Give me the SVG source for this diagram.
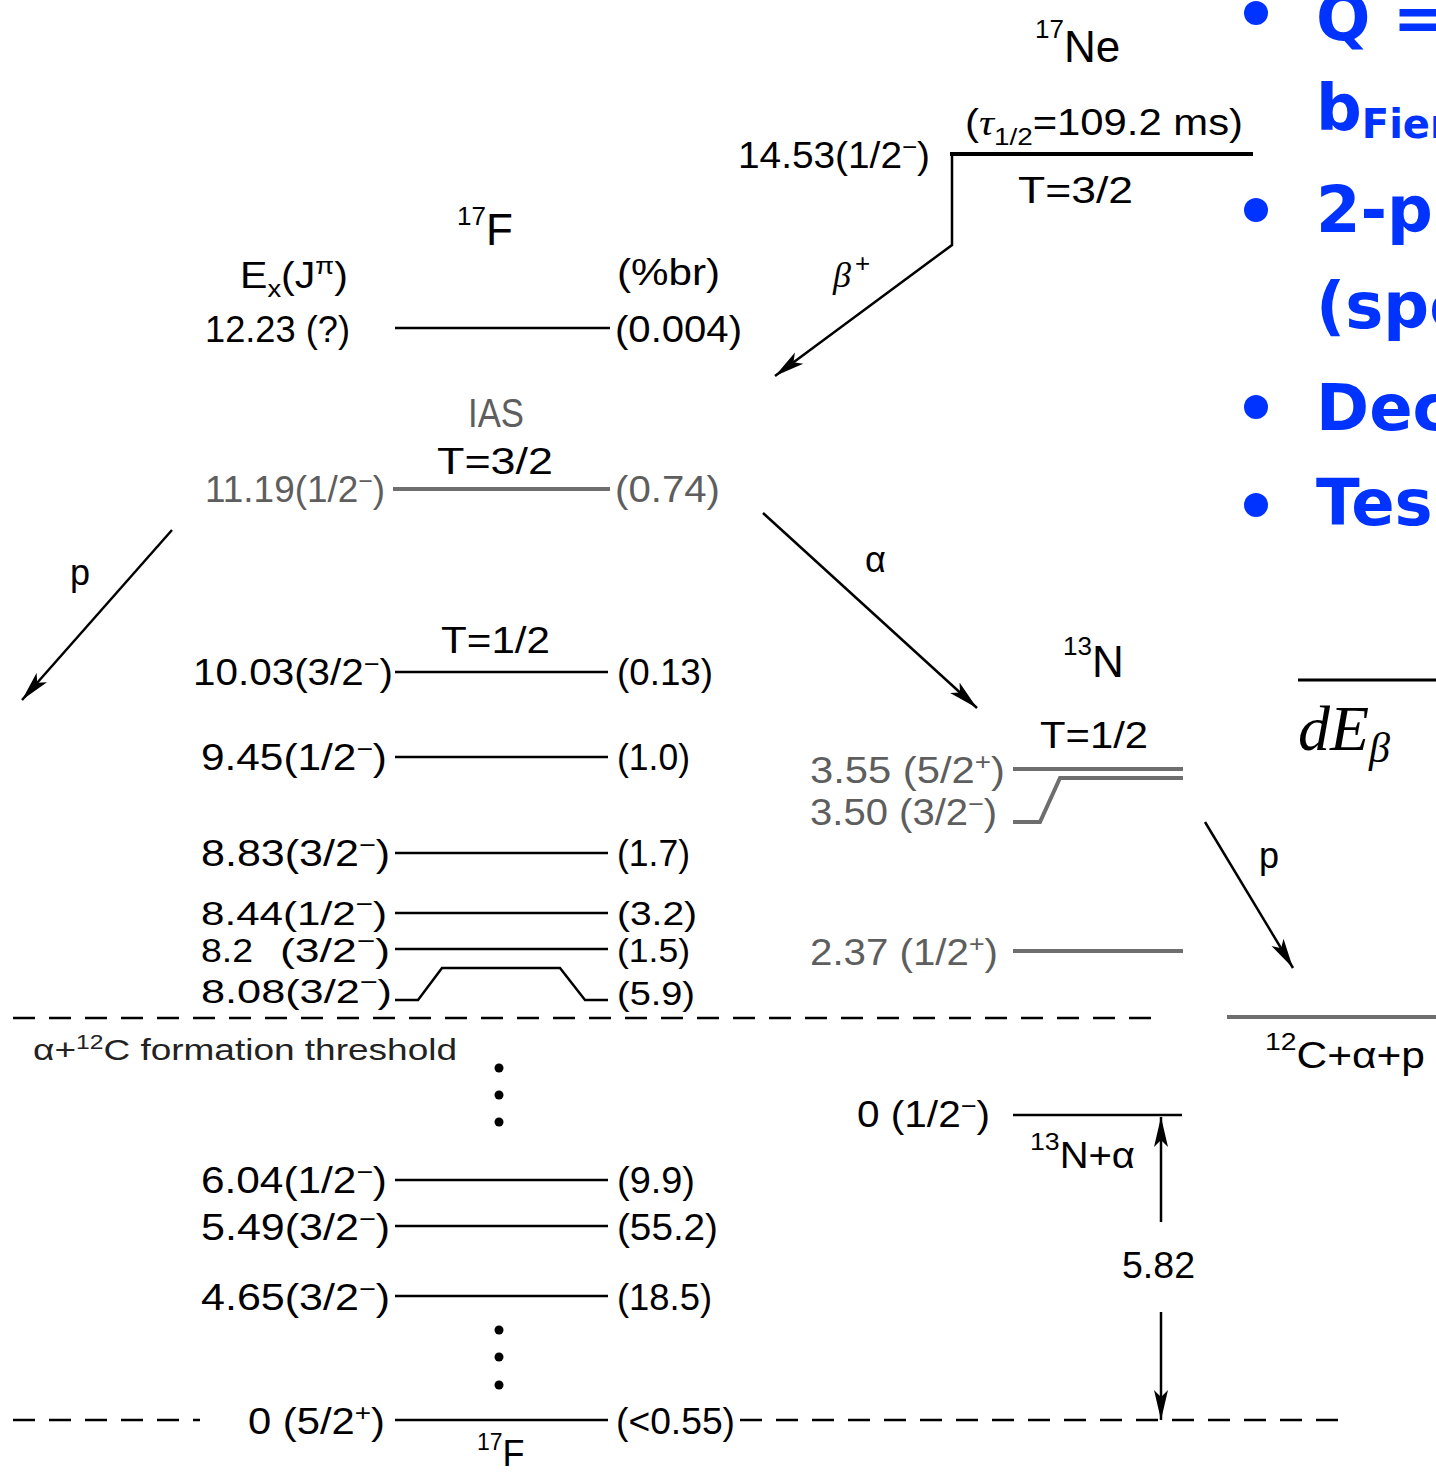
<svg xmlns="http://www.w3.org/2000/svg" width="1436" height="1475" viewBox="0 0 1436 1475">
<style>
.t{font-family:"Liberation Sans",Arial,sans-serif;font-size:36px;fill:#000}
.g{fill:#5e5e5e}
.s{font-size:24px}
.sm{font-size:30px}
.r3{font-size:34px}
.lv{stroke:#000;stroke-width:2.5;fill:none}
.lg{stroke:#6e6e6e;stroke-width:4;fill:none}
.dash{stroke:#000;stroke-width:2.5;stroke-dasharray:22 14;fill:none}
.ar{stroke:#000;stroke-width:2.5;fill:none;marker-end:url(#ah)}
.bl{font-family:"DejaVu Sans",sans-serif;font-weight:bold;font-size:64px;fill:#0033ff}
.dot{fill:#000}
</style>
<defs>
<marker id="ah" markerUnits="userSpaceOnUse" markerWidth="34" markerHeight="16" refX="30" refY="8" orient="auto">
<path d="M0,1 L30,8 L0,15 L7,8 Z" fill="#000"/>
</marker>
</defs>
<rect width="1436" height="1475" fill="#fff"/>

<!-- 17Ne parent -->
<g id="ne17">
<text class="t" x="1035" y="62" style="font-size:44px"><tspan style="font-size:26px" dy="-24">17</tspan><tspan dy="24">Ne</tspan></text>
<text class="t" x="965" y="135" textLength="278" lengthAdjust="spacingAndGlyphs">(<tspan style="font-style:italic;font-family:'Liberation Serif',serif">τ</tspan><tspan class="s" dy="10">1/2</tspan><tspan dy="-10">=109.2  ms)</tspan></text>
<line class="lv" x1="950" y1="154" x2="1253" y2="154" style="stroke-width:4"/>
<text class="t" x="738" y="168" textLength="192" lengthAdjust="spacingAndGlyphs">14.53(1/2<tspan class="s" dy="-13">−</tspan><tspan dy="13">)</tspan></text>
<text class="t" x="1018" y="203" textLength="115" lengthAdjust="spacingAndGlyphs">T=3/2</text>
</g>

<!-- 17F headers -->
<g id="f17-header">
<text class="t" x="457" y="245" style="font-size:44px"><tspan style="font-size:26px" dy="-20">17</tspan><tspan dy="20">F</tspan></text>
<text class="t" x="240" y="288" textLength="108" lengthAdjust="spacingAndGlyphs">E<tspan class="s" dy="9">x</tspan><tspan dy="-9">(J</tspan><tspan class="s" dy="-14">π</tspan><tspan dy="14">)</tspan></text>
<text class="t" x="617" y="285" textLength="103" lengthAdjust="spacingAndGlyphs">(%br)</text>
</g>

<g id="f17-1223">
<text class="t" x="205" y="342" textLength="145" lengthAdjust="spacingAndGlyphs">12.23 (?)</text>
<line class="lv" x1="395" y1="328" x2="610" y2="328"/>
<text class="t" x="615" y="342" textLength="127" lengthAdjust="spacingAndGlyphs">(0.004)</text>
</g>

<g id="f17-1119">
<text class="t g" x="468" y="427" style="font-size:40px" textLength="56" lengthAdjust="spacingAndGlyphs">IAS</text>
<text class="t" x="437" y="474" textLength="116" lengthAdjust="spacingAndGlyphs">T=3/2</text>
<text class="t g" x="205" y="502" textLength="180" lengthAdjust="spacingAndGlyphs">11.19(1/2<tspan class="s" dy="-13">−</tspan><tspan dy="13">)</tspan></text>
<line class="lg" x1="393" y1="489" x2="610" y2="489"/>
<text class="t g" x="615" y="502" textLength="105" lengthAdjust="spacingAndGlyphs">(0.74)</text>
</g>

<g id="f17-1003">
<text class="t" x="441" y="653" textLength="109" lengthAdjust="spacingAndGlyphs">T=1/2</text>
<text class="t" x="193" y="685" textLength="200" lengthAdjust="spacingAndGlyphs">10.03(3/2<tspan class="s" dy="-13">−</tspan><tspan dy="13">)</tspan></text>
<line class="lv" x1="395" y1="672" x2="608" y2="672"/>
<text class="t" x="617" y="685" textLength="96" lengthAdjust="spacingAndGlyphs">(0.13)</text>
</g>

<g id="f17-945">
<text class="t" x="201" y="770" textLength="186" lengthAdjust="spacingAndGlyphs">9.45(1/2<tspan class="s" dy="-13">−</tspan><tspan dy="13">)</tspan></text>
<line class="lv" x1="395" y1="757" x2="608" y2="757"/>
<text class="t" x="617" y="770" textLength="73" lengthAdjust="spacingAndGlyphs">(1.0)</text>
</g>

<g id="f17-883">
<text class="t" x="201" y="866" textLength="189" lengthAdjust="spacingAndGlyphs">8.83(3/2<tspan class="s" dy="-13">−</tspan><tspan dy="13">)</tspan></text>
<line class="lv" x1="395" y1="853" x2="608" y2="853"/>
<text class="t" x="617" y="866" textLength="73" lengthAdjust="spacingAndGlyphs">(1.7)</text>
</g>

<g id="f17-844">
<text class="t r3" x="201" y="925" textLength="186" lengthAdjust="spacingAndGlyphs">8.44(1/2<tspan class="s" dy="-13">−</tspan><tspan dy="13">)</tspan></text>
<line class="lv" x1="395" y1="913" x2="608" y2="913"/>
<text class="t r3" x="617" y="925" textLength="80" lengthAdjust="spacingAndGlyphs">(3.2)</text>
</g>

<g id="f17-82">
<text class="t r3" x="201" y="962" textLength="52" lengthAdjust="spacingAndGlyphs">8.2</text>
<text class="t r3" x="280" y="962" textLength="110" lengthAdjust="spacingAndGlyphs">(3/2<tspan class="s" dy="-13">−</tspan><tspan dy="13">)</tspan></text>
<line class="lv" x1="395" y1="949" x2="608" y2="949"/>
<text class="t r3" x="617" y="962" textLength="73" lengthAdjust="spacingAndGlyphs">(1.5)</text>
</g>

<g id="f17-808">
<text class="t r3" x="201" y="1003" textLength="191" lengthAdjust="spacingAndGlyphs">8.08(3/2<tspan class="s" dy="-13">−</tspan><tspan dy="13">)</tspan></text>
<polyline class="lv" points="395,1000 418,1000 442,968 560,968 585,1000 608,1000"/>
<text class="t r3" x="617" y="1005" textLength="78" lengthAdjust="spacingAndGlyphs">(5.9)</text>
</g>

<g id="threshold">
<line class="dash" x1="13" y1="1018" x2="1160" y2="1018"/>
<text class="t sm" x="33" y="1060" textLength="424" lengthAdjust="spacingAndGlyphs" style="fill:#222">α+<tspan style="font-size:20px" dy="-11">12</tspan><tspan dy="11">C formation threshold</tspan></text>
<circle class="dot" cx="499" cy="1068" r="4.5"/>
<circle class="dot" cx="499" cy="1095" r="4.5"/>
<circle class="dot" cx="499" cy="1122" r="4.5"/>
</g>

<g id="f17-604">
<text class="t" x="201" y="1193" textLength="186" lengthAdjust="spacingAndGlyphs">6.04(1/2<tspan class="s" dy="-13">−</tspan><tspan dy="13">)</tspan></text>
<line class="lv" x1="395" y1="1180" x2="608" y2="1180"/>
<text class="t" x="617" y="1193" textLength="78" lengthAdjust="spacingAndGlyphs">(9.9)</text>
</g>

<g id="f17-549">
<text class="t" x="201" y="1240" textLength="189" lengthAdjust="spacingAndGlyphs">5.49(3/2<tspan class="s" dy="-13">−</tspan><tspan dy="13">)</tspan></text>
<line class="lv" x1="395" y1="1226" x2="608" y2="1226"/>
<text class="t" x="617" y="1240" textLength="101" lengthAdjust="spacingAndGlyphs">(55.2)</text>
</g>

<g id="f17-465">
<text class="t" x="201" y="1310" textLength="189" lengthAdjust="spacingAndGlyphs">4.65(3/2<tspan class="s" dy="-13">−</tspan><tspan dy="13">)</tspan></text>
<line class="lv" x1="395" y1="1296" x2="608" y2="1296"/>
<text class="t" x="617" y="1310" textLength="95" lengthAdjust="spacingAndGlyphs">(18.5)</text>
<circle class="dot" cx="499" cy="1330" r="4.5"/>
<circle class="dot" cx="499" cy="1357" r="4.5"/>
<circle class="dot" cx="499" cy="1385" r="4.5"/>
</g>

<g id="f17-gs">
<line class="dash" x1="13" y1="1420" x2="200" y2="1420"/>
<text class="t" x="248" y="1434" textLength="137" lengthAdjust="spacingAndGlyphs">0 (5/2<tspan class="s" dy="-13">+</tspan><tspan dy="13">)</tspan></text>
<line class="lv" x1="395" y1="1420" x2="608" y2="1420"/>
<text class="t" x="616" y="1434" textLength="119" lengthAdjust="spacingAndGlyphs">(&lt;0.55)</text>
<line class="dash" x1="740" y1="1420" x2="1350" y2="1420"/>
<text class="t" x="477" y="1466" style="font-size:36px"><tspan style="font-size:23px" dy="-16">17</tspan><tspan dy="16">F</tspan></text>
</g>

<!-- 13N -->
<g id="n13-header">
<text class="t" x="1063" y="677" style="font-size:44px"><tspan style="font-size:26px" dy="-22">13</tspan><tspan dy="22">N</tspan></text>
<text class="t" x="1040" y="748" textLength="108" lengthAdjust="spacingAndGlyphs">T=1/2</text>
</g>

<g id="n13-355">
<text class="t g" x="810" y="783" textLength="195" lengthAdjust="spacingAndGlyphs">3.55 (5/2<tspan class="s" dy="-13">+</tspan><tspan dy="13">)</tspan></text>
<line class="lg" x1="1013" y1="769" x2="1183" y2="769"/>
</g>

<g id="n13-350">
<text class="t g" x="810" y="825" textLength="187" lengthAdjust="spacingAndGlyphs">3.50 (3/2<tspan class="s" dy="-13">−</tspan><tspan dy="13">)</tspan></text>
<polyline class="lg" points="1013,822 1040,822 1060,778 1183,778"/>
</g>

<g id="n13-237">
<text class="t g" x="810" y="965" textLength="188" lengthAdjust="spacingAndGlyphs">2.37 (1/2<tspan class="s" dy="-13">+</tspan><tspan dy="13">)</tspan></text>
<line class="lg" x1="1013" y1="951" x2="1183" y2="951"/>
</g>

<g id="c12ap">
<line class="lg" x1="1227" y1="1017" x2="1436" y2="1017"/>
<text class="t" x="1265" y="1068" textLength="160" lengthAdjust="spacingAndGlyphs"><tspan style="font-size:24px" dy="-18">12</tspan><tspan dy="18">C+α+p</tspan></text>
</g>

<g id="n13-gs">
<text class="t" x="857" y="1127" textLength="133" lengthAdjust="spacingAndGlyphs">0 (1/2<tspan class="s" dy="-13">−</tspan><tspan dy="13">)</tspan></text>
<line class="lv" x1="1013" y1="1115" x2="1182" y2="1115"/>
<text class="t" x="1030" y="1168" textLength="105" lengthAdjust="spacingAndGlyphs"><tspan style="font-size:24px" dy="-18">13</tspan><tspan dy="18">N+α</tspan></text>
<text class="t" x="1122" y="1278" textLength="73" lengthAdjust="spacingAndGlyphs">5.82</text>
</g>

<!-- connectors -->
<g id="connectors">
<path class="ar" d="M952,154 V245 L775,376"/>
<text class="t" x="833" y="287" style="font-style:italic;font-family:'Liberation Serif',serif">β<tspan style="font-style:normal;font-family:'Liberation Sans',sans-serif;font-size:26px" dy="-15" dx="4">+</tspan></text>
<line class="ar" x1="172" y1="530" x2="22" y2="700"/>
<text class="t" x="70" y="585">p</text>
<line class="ar" x1="763" y1="513" x2="977" y2="708"/>
<text class="t" x="865" y="572">α</text>
<line class="ar" x1="1205" y1="822" x2="1293" y2="968"/>
<text class="t" x="1259" y="868">p</text>
<line class="ar" x1="1161" y1="1222" x2="1161" y2="1117"/>
<line class="ar" x1="1161" y1="1312" x2="1161" y2="1420"/>
</g>

<!-- right side slide text -->
<g id="bullets">
<circle cx="1256" cy="13" r="12" fill="#0033ff"/>
<circle cx="1256" cy="210" r="12" fill="#0033ff"/>
<circle cx="1256" cy="407" r="12" fill="#0033ff"/>
<circle cx="1256" cy="505" r="12" fill="#0033ff"/>
<text class="bl" x="1316" y="40">Q  =</text>
<text class="bl" x="1316" y="130">b<tspan style="font-size:40px" dy="8">Fier</tspan></text>
<text class="bl" x="1316" y="232">2-p</text>
<text class="bl" x="1316" y="328">(spe</text>
<text class="bl" x="1316" y="430">Dec</text>
<text class="bl" x="1316" y="525">Tes-</text>
</g>

<g id="formula">
<line x1="1298" y1="680" x2="1436" y2="680" stroke="#000" stroke-width="3"/>
<text x="1298" y="750" style="font-family:'Liberation Serif',serif;font-style:italic;font-size:64px;fill:#000">dE<tspan style="font-size:42px" dy="12">β</tspan></text>
</g>
</svg>
